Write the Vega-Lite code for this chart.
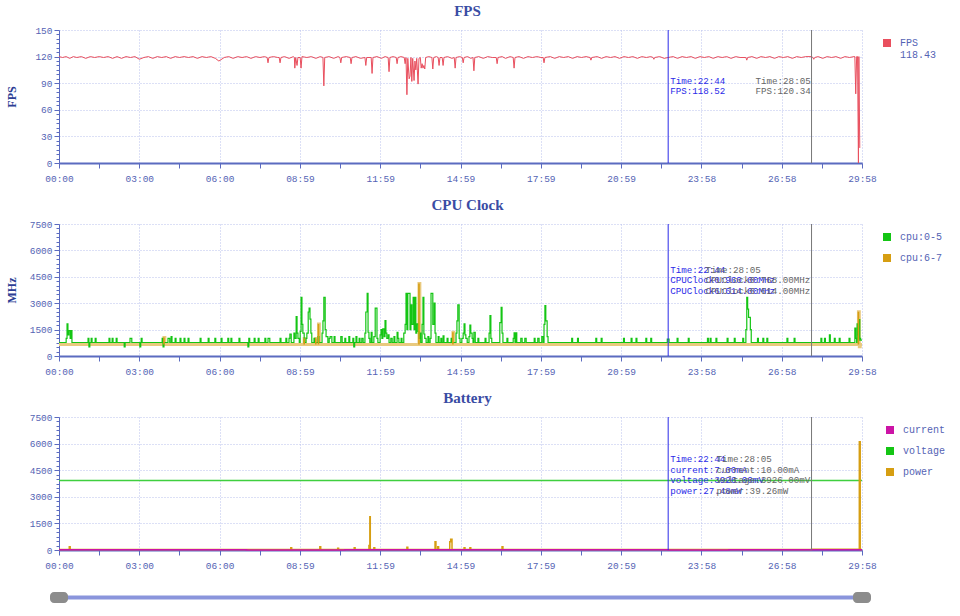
{
  "$schema": "https://vega.github.io/schema/vega-lite/v6.json",
  "background": "white",
  "padding": {"left": 5, "top": 4, "right": 5, "bottom": 5},
  "datasets": {
    "fps": [
      {"t":0,"v":120},{"t":8,"v":119},{"t":16,"v":120},{"t":24,"v":118},{"t":32,"v":120},{"t":40,"v":119},{"t":50,"v":120},{"t":60,"v":118},{"t":70,"v":120},{"t":80,"v":119},
      {"t":90,"v":120},{"t":100,"v":119},{"t":110,"v":120},{"t":120,"v":118},{"t":130,"v":120},{"t":140,"v":118},{"t":150,"v":120},{"t":160,"v":119},{"t":170,"v":120},{"t":180,"v":117},
      {"t":190,"v":119},{"t":200,"v":120},{"t":210,"v":118},{"t":220,"v":120},{"t":230,"v":119},{"t":240,"v":120},{"t":250,"v":118},{"t":260,"v":120},{"t":270,"v":119},{"t":280,"v":120},
      {"t":290,"v":119},{"t":300,"v":120},{"t":310,"v":118},{"t":320,"v":120},{"t":330,"v":119},{"t":340,"v":120},{"t":350,"v":118},{"t":358,"v":115},{"t":370,"v":119},{"t":380,"v":120},
      {"t":390,"v":118},{"t":400,"v":120},{"t":410,"v":119},{"t":420,"v":120},{"t":430,"v":118},{"t":440,"v":120},{"t":450,"v":119},{"t":460,"v":120},{"t":466,"v":119},{"t":468,"v":113},
      {"t":470,"v":119},{"t":480,"v":120},{"t":490,"v":119},{"t":493,"v":119},{"t":495,"v":113},{"t":497,"v":119},{"t":505,"v":120},{"t":515,"v":118},{"t":525,"v":120},{"t":527,"v":119},
      {"t":528,"v":107},{"t":530,"v":119},{"t":533,"v":110},{"t":535,"v":119},{"t":540,"v":119},{"t":542,"v":107},{"t":544,"v":120},{"t":555,"v":119},{"t":565,"v":120},{"t":575,"v":118},
      {"t":585,"v":120},{"t":591,"v":119},{"t":593,"v":87},{"t":595,"v":119},{"t":605,"v":120},{"t":615,"v":118},{"t":625,"v":120},{"t":629,"v":119},{"t":631,"v":113},{"t":633,"v":119},
      {"t":643,"v":120},{"t":652,"v":119},{"t":654,"v":112},{"t":656,"v":119},{"t":665,"v":120},{"t":675,"v":118},{"t":685,"v":119},{"t":687,"v":110},{"t":689,"v":119},{"t":699,"v":119},
      {"t":701,"v":101},{"t":703,"v":119},{"t":712,"v":120},{"t":722,"v":118},{"t":730,"v":120},{"t":737,"v":119},{"t":739,"v":103},{"t":741,"v":119},{"t":748,"v":120},{"t":755,"v":119},
      {"t":757,"v":112},{"t":759,"v":119},{"t":766,"v":120},{"t":773,"v":119},{"t":775,"v":112},{"t":777,"v":119},{"t":779,"v":77},{"t":781,"v":118},{"t":784,"v":95},{"t":786,"v":98},
      {"t":788,"v":119},{"t":790,"v":92},{"t":792,"v":118},{"t":795,"v":93},{"t":797,"v":115},{"t":799,"v":105},{"t":801,"v":118},{"t":804,"v":89},{"t":806,"v":118},{"t":809,"v":119},
      {"t":811,"v":107},{"t":813,"v":112},{"t":815,"v":107},{"t":817,"v":110},{"t":819,"v":106},{"t":821,"v":119},{"t":828,"v":120},{"t":835,"v":119},{"t":837,"v":106},{"t":839,"v":119},
      {"t":845,"v":120},{"t":849,"v":119},{"t":851,"v":110},{"t":853,"v":119},{"t":858,"v":119},{"t":860,"v":110},{"t":862,"v":119},{"t":870,"v":120},{"t":880,"v":118},{"t":885,"v":119},
      {"t":887,"v":107},{"t":889,"v":119},{"t":897,"v":120},{"t":903,"v":119},{"t":905,"v":113},{"t":907,"v":119},{"t":915,"v":120},{"t":922,"v":118},{"t":927,"v":119},{"t":929,"v":104},
      {"t":931,"v":119},{"t":940,"v":120},{"t":950,"v":118},{"t":960,"v":120},{"t":970,"v":119},{"t":979,"v":119},{"t":981,"v":112},{"t":983,"v":119},{"t":992,"v":120},{"t":1000,"v":118},
      {"t":1010,"v":120},{"t":1017,"v":119},{"t":1019,"v":107},{"t":1021,"v":119},{"t":1030,"v":120},{"t":1040,"v":118},{"t":1050,"v":120},{"t":1060,"v":119},{"t":1070,"v":120},{"t":1079,"v":119},
      {"t":1084,"v":119},{"t":1086,"v":113},{"t":1088,"v":119},{"t":1100,"v":120},{"t":1110,"v":118},{"t":1120,"v":120},{"t":1130,"v":119},{"t":1140,"v":120},{"t":1150,"v":118},{"t":1160,"v":120},
      {"t":1170,"v":119},{"t":1180,"v":120},{"t":1189,"v":119},{"t":1191,"v":116},{"t":1193,"v":119},{"t":1205,"v":120},{"t":1215,"v":118},{"t":1225,"v":120},{"t":1235,"v":119},{"t":1245,"v":120},
      {"t":1255,"v":118},{"t":1265,"v":120},{"t":1275,"v":119},{"t":1285,"v":120},{"t":1295,"v":118},{"t":1305,"v":120},{"t":1315,"v":119},{"t":1325,"v":120},{"t":1330,"v":119},{"t":1332,"v":117},
      {"t":1334,"v":119},{"t":1345,"v":120},{"t":1355,"v":118},{"t":1364,"v":119},{"t":1375,"v":120},{"t":1385,"v":118},{"t":1395,"v":120},{"t":1405,"v":119},{"t":1415,"v":120},{"t":1425,"v":118},
      {"t":1435,"v":120},{"t":1445,"v":119},{"t":1455,"v":120},{"t":1465,"v":118},{"t":1475,"v":120},{"t":1485,"v":119},{"t":1495,"v":120},{"t":1505,"v":118},{"t":1515,"v":120},{"t":1525,"v":119},
      {"t":1538,"v":119},{"t":1540,"v":116},{"t":1542,"v":119},{"t":1552,"v":120},{"t":1562,"v":118},{"t":1572,"v":120},{"t":1582,"v":119},{"t":1592,"v":120},{"t":1602,"v":118},{"t":1612,"v":120},
      {"t":1622,"v":119},{"t":1632,"v":120},{"t":1642,"v":118},{"t":1652,"v":120},{"t":1662,"v":119},{"t":1672,"v":120},{"t":1685,"v":120},{"t":1688,"v":119},{"t":1690,"v":117},{"t":1692,"v":119},
      {"t":1700,"v":120},{"t":1710,"v":118},{"t":1720,"v":120},{"t":1730,"v":119},{"t":1740,"v":120},{"t":1750,"v":118},{"t":1760,"v":120},{"t":1770,"v":119},{"t":1780,"v":120},{"t":1782,"v":120},
      {"t":1784,"v":78},{"t":1786,"v":120},{"t":1788,"v":120},{"t":1790,"v":0},{"t":1791,"v":120},{"t":1793,"v":17}
    ],
    "cpu05": [
      {"t":0,"v":768},{"t":16,"v":1000},{"t":18,"v":1820},{"t":20,"v":1200},{"t":22,"v":1444},{"t":25,"v":1000},{"t":27,"v":1444},{"t":29,"v":768},
      {"t":65,"v":1000},{"t":67,"v":520},{"t":69,"v":768},{"t":72,"v":1000},{"t":74,"v":768},{"t":81,"v":1000},{"t":83,"v":768},{"t":112,"v":1000},{"t":114,"v":768},
      {"t":119,"v":1000},{"t":121,"v":768},{"t":128,"v":1000},{"t":130,"v":768},{"t":146,"v":520},{"t":148,"v":768},{"t":159,"v":1000},{"t":163,"v":768},
      {"t":181,"v":520},{"t":183,"v":768},{"t":184,"v":1000},{"t":186,"v":768},{"t":231,"v":1000},{"t":233,"v":520},{"t":235,"v":768},{"t":244,"v":1000},{"t":248,"v":768},
      {"t":251,"v":1100},{"t":253,"v":768},{"t":260,"v":1000},{"t":262,"v":768},{"t":271,"v":1000},{"t":273,"v":768},{"t":280,"v":1000},{"t":282,"v":768},
      {"t":289,"v":1000},{"t":291,"v":768},{"t":316,"v":1000},{"t":318,"v":768},{"t":334,"v":1000},{"t":336,"v":768},{"t":349,"v":1000},{"t":351,"v":768},
      {"t":363,"v":1000},{"t":365,"v":768},{"t":378,"v":1000},{"t":380,"v":768},{"t":385,"v":1000},{"t":387,"v":768},{"t":403,"v":1000},{"t":405,"v":768},
      {"t":423,"v":520},{"t":425,"v":1000},{"t":427,"v":768},{"t":437,"v":1000},{"t":439,"v":768},{"t":446,"v":1000},{"t":448,"v":768},{"t":461,"v":1000},{"t":463,"v":768},
      {"t":468,"v":1000},{"t":472,"v":768},{"t":495,"v":1000},{"t":497,"v":768},{"t":508,"v":1000},{"t":510,"v":768},
      {"t":515,"v":1000},{"t":517,"v":1250},{"t":520,"v":768},{"t":526,"v":1300},{"t":528,"v":1000},{"t":531,"v":2234},{"t":533,"v":1300},{"t":535,"v":1000},{"t":538,"v":768},
      {"t":540,"v":1400},{"t":542,"v":3327},{"t":544,"v":1800},{"t":546,"v":1300},{"t":549,"v":768},{"t":553,"v":1000},{"t":555,"v":1300},{"t":558,"v":2500},{"t":560,"v":2724},
      {"t":562,"v":2100},{"t":564,"v":1300},{"t":566,"v":768},{"t":571,"v":1000},{"t":573,"v":768},{"t":580,"v":1100},{"t":582,"v":768},{"t":589,"v":1300},{"t":591,"v":2000},
      {"t":593,"v":3327},{"t":596,"v":1500},{"t":598,"v":1100},{"t":602,"v":768},{"t":605,"v":1000},{"t":607,"v":1100},{"t":611,"v":768},{"t":616,"v":1100},{"t":618,"v":768},
      {"t":631,"v":1100},{"t":634,"v":768},{"t":640,"v":1000},{"t":642,"v":768},{"t":649,"v":1100},{"t":651,"v":768},{"t":658,"v":1000},{"t":660,"v":520},{"t":662,"v":768},
      {"t":665,"v":1100},{"t":667,"v":768},{"t":672,"v":1000},{"t":674,"v":768},{"t":678,"v":1000},{"t":681,"v":768},{"t":685,"v":1300},{"t":687,"v":2500},{"t":690,"v":3553},
      {"t":692,"v":1350},{"t":694,"v":1000},{"t":696,"v":768},{"t":699,"v":1350},{"t":701,"v":768},{"t":705,"v":1100},{"t":708,"v":2724},{"t":710,"v":2724},{"t":712,"v":1000},
      {"t":714,"v":768},{"t":719,"v":1200},{"t":721,"v":1500},{"t":723,"v":1000},{"t":725,"v":1540},{"t":728,"v":1100},{"t":730,"v":2008},{"t":732,"v":1300},{"t":734,"v":1000},
      {"t":737,"v":1200},{"t":739,"v":768},{"t":743,"v":1000},{"t":746,"v":768},{"t":750,"v":1100},{"t":752,"v":768},{"t":757,"v":1350},{"t":759,"v":1000},{"t":761,"v":768},
      {"t":766,"v":1000},{"t":768,"v":768},{"t":772,"v":1300},{"t":775,"v":1800},{"t":777,"v":3553},{"t":779,"v":1500},{"t":781,"v":3553},{"t":784,"v":3553},{"t":786,"v":1500},
      {"t":788,"v":2900},{"t":790,"v":1800},{"t":793,"v":3327},{"t":795,"v":1500},{"t":797,"v":3327},{"t":799,"v":1300},{"t":801,"v":1820},{"t":804,"v":1400},{"t":806,"v":1000},
      {"t":808,"v":1300},{"t":810,"v":768},{"t":813,"v":1800},{"t":815,"v":3327},{"t":817,"v":1250},{"t":819,"v":1000},{"t":822,"v":768},{"t":826,"v":1100},{"t":828,"v":768},
      {"t":831,"v":1000},{"t":833,"v":3553},{"t":835,"v":3553},{"t":837,"v":1800},{"t":840,"v":3000},{"t":842,"v":1300},{"t":844,"v":768},{"t":849,"v":1100},{"t":851,"v":768},
      {"t":855,"v":1000},{"t":857,"v":768},{"t":860,"v":1150},{"t":862,"v":768},{"t":869,"v":1000},{"t":871,"v":768},{"t":878,"v":1000},{"t":880,"v":768},{"t":889,"v":1300},
      {"t":891,"v":2000},{"t":893,"v":2900},{"t":896,"v":1000},{"t":898,"v":768},{"t":902,"v":1000},{"t":905,"v":1300},{"t":907,"v":1820},{"t":909,"v":1200},{"t":911,"v":1000},
      {"t":914,"v":768},{"t":918,"v":1100},{"t":920,"v":1750},{"t":922,"v":1300},{"t":925,"v":1000},{"t":927,"v":768},{"t":929,"v":1350},{"t":932,"v":768},{"t":938,"v":1000},
      {"t":940,"v":768},{"t":954,"v":1000},{"t":956,"v":768},{"t":963,"v":1300},{"t":965,"v":2290},{"t":967,"v":1000},{"t":969,"v":768},{"t":987,"v":1900},{"t":990,"v":2760},
      {"t":992,"v":1300},{"t":994,"v":768},{"t":1003,"v":1000},{"t":1005,"v":768},{"t":1017,"v":1000},{"t":1019,"v":1320},{"t":1021,"v":768},{"t":1023,"v":1320},{"t":1025,"v":768},
      {"t":1034,"v":1000},{"t":1037,"v":768},{"t":1043,"v":1000},{"t":1046,"v":768},{"t":1064,"v":1000},{"t":1066,"v":768},{"t":1072,"v":1000},{"t":1075,"v":768},{"t":1081,"v":1100},
      {"t":1084,"v":768},{"t":1086,"v":1800},{"t":1088,"v":2870},{"t":1090,"v":2000},{"t":1093,"v":1100},{"t":1095,"v":768},
      {"t":1148,"v":1000},{"t":1150,"v":768},{"t":1161,"v":1000},{"t":1163,"v":768},{"t":1202,"v":1000},{"t":1204,"v":768},{"t":1214,"v":1000},{"t":1216,"v":768},
      {"t":1264,"v":1000},{"t":1266,"v":768},{"t":1281,"v":1000},{"t":1283,"v":768},{"t":1292,"v":1000},{"t":1294,"v":768},{"t":1314,"v":1000},{"t":1316,"v":768},
      {"t":1325,"v":1000},{"t":1327,"v":768},{"t":1362,"v":960},{"t":1366,"v":768},{"t":1384,"v":1000},{"t":1386,"v":768},{"t":1409,"v":1000},{"t":1411,"v":768},
      {"t":1452,"v":1000},{"t":1454,"v":768},{"t":1458,"v":1000},{"t":1460,"v":768},{"t":1471,"v":1000},{"t":1473,"v":768},{"t":1496,"v":1000},{"t":1498,"v":768},
      {"t":1512,"v":1000},{"t":1514,"v":768},{"t":1531,"v":1000},{"t":1533,"v":768},{"t":1538,"v":1500},{"t":1540,"v":3327},{"t":1542,"v":2668},{"t":1544,"v":2200},
      {"t":1546,"v":2200},{"t":1548,"v":1500},{"t":1550,"v":768},{"t":1564,"v":1000},{"t":1566,"v":768},{"t":1576,"v":1000},{"t":1578,"v":768},{"t":1585,"v":1000},{"t":1587,"v":768},
      {"t":1630,"v":1000},{"t":1632,"v":768},{"t":1646,"v":1000},{"t":1648,"v":768},{"t":1706,"v":1000},{"t":1708,"v":768},{"t":1714,"v":1000},{"t":1716,"v":768},
      {"t":1725,"v":1200},{"t":1727,"v":768},{"t":1736,"v":1000},{"t":1738,"v":768},{"t":1747,"v":1000},{"t":1749,"v":768},{"t":1769,"v":1000},{"t":1771,"v":768},
      {"t":1782,"v":1580},{"t":1784,"v":1000},{"t":1786,"v":768},{"t":1787,"v":1820},{"t":1788,"v":1200},{"t":1790,"v":900},{"t":1792,"v":2064},{"t":1793,"v":1000},
      {"t":1795,"v":900},{"t":1798,"v":900}
    ],
    "cpu67": [
      {"t":0,"v":654},{"t":235,"v":1050},{"t":237,"v":654},{"t":549,"v":1000},{"t":551,"v":654},{"t":575,"v":1000},{"t":577,"v":654},{"t":581,"v":1820},{"t":583,"v":654},
      {"t":806,"v":4117},{"t":808,"v":654},{"t":882,"v":1350},{"t":884,"v":654},{"t":1790,"v":2515},{"t":1792,"v":520},{"t":1794,"v":654},{"t":1798,"v":654}
    ],
    "battery": [
      {"s":"voltage","t":0,"v":3926},{"s":"voltage","t":1798,"v":3926},
      {"s":"power","t":0,"v":30},{"s":"power","t":23,"v":190},{"s":"power","t":25,"v":30},{"s":"power","t":519,"v":130},{"s":"power","t":521,"v":30},
      {"s":"power","t":584,"v":190},{"s":"power","t":586,"v":30},{"s":"power","t":624,"v":100},{"s":"power","t":626,"v":30},{"s":"power","t":661,"v":130},{"s":"power","t":663,"v":30},
      {"s":"power","t":694,"v":250},{"s":"power","t":696,"v":1880},{"s":"power","t":697,"v":30},{"s":"power","t":705,"v":130},{"s":"power","t":707,"v":30},
      {"s":"power","t":779,"v":150},{"s":"power","t":781,"v":30},{"s":"power","t":842,"v":470},{"s":"power","t":844,"v":30},{"s":"power","t":848,"v":190},{"s":"power","t":850,"v":30},
      {"s":"power","t":875,"v":470},{"s":"power","t":877,"v":600},{"s":"power","t":880,"v":30},{"s":"power","t":907,"v":130},{"s":"power","t":909,"v":30},
      {"s":"power","t":920,"v":130},{"s":"power","t":922,"v":30},{"s":"power","t":992,"v":190},{"s":"power","t":994,"v":30},{"s":"power","t":1364,"v":27},
      {"s":"power","t":1685,"v":39},{"s":"power","t":1792,"v":6100},{"s":"power","t":1794,"v":30},{"s":"power","t":1798,"v":30},
      {"s":"current","t":0,"v":8},{"s":"current","t":200,"v":10},{"s":"current","t":420,"v":7},{"s":"current","t":640,"v":9},{"s":"current","t":900,"v":8},
      {"s":"current","t":1150,"v":10},{"s":"current","t":1364,"v":7},{"s":"current","t":1500,"v":9},{"s":"current","t":1685,"v":10},{"s":"current","t":1798,"v":10}
    ],
    "cursors": [{"t":1364,"k":"a"},{"t":1685,"k":"b"}],
    "slider": [{"t":0},{"t":1798}],
    "notes": [
      {"p":"fps","k":"a","t":1364,"txt":"Time:22:44\nFPS:118.52"},
      {"p":"fps","k":"b","t":1685,"txt":"Time:28:05\nFPS:120.34"},
      {"p":"cpu","k":"a","t":1364,"txt":"Time:22:44\nCPUClock0:960.00MHz\nCPUClock6:614.00MHz"},
      {"p":"cpu","k":"b","t":1685,"txt":"Time:28:05\nCPUClock0:768.00MHz\nCPUClock6:614.00MHz"},
      {"p":"bat","k":"a","t":1364,"txt":"Time:22:44\ncurrent:7.00mA\nvoltage:3926.00mV\npower:27.48mW"},
      {"p":"bat","k":"b","t":1685,"txt":"Time:28:05\ncurrent:10.00mA\nvoltage:3926.00mV\npower:39.26mW"}
    ]
  },
  "spacing": 15,
  "resolve": {"scale": {"color": "independent"}},
  "vconcat": [
    {
      "width": 803, "height": 133,
      "title": {"text": "FPS", "dx": 7},
      "encoding": {
        "x": {"field": "t", "type": "quantitative", "scale": {"domain": [0, 1798], "nice": false, "zero": false},
          "axis": {"title": null, "tickCount": 21, "values": [0,89.9,179.8,269.7,359.6,449.5,539.4,629.3,719.2,809.1,899,988.9,1078.8,1168.7,1258.6,1348.5,1438.4,1528.3,1618.2,1708.1,1798],
            "labelExpr": "round(datum.value/89.9) % 2 == 1 ? '' : (floor(round(datum.value)/60) < 10 ? '0' : '') + floor(round(datum.value)/60) + ':' + (round(datum.value) % 60 < 10 ? '0' : '') + (round(datum.value) % 60)",
            "gridOpacity": {"condition": {"test": "round(datum.value/89.9) % 2 == 1", "value": 0}, "value": 1},
            "labelFlush": false, "labelOverlap": false, "domainWidth": 2, "tickSize": 5, "labelPadding": 5}}
      },
      "layer": [
        {"data": {"name": "fps"}, "mark": {"type": "line", "strokeWidth": 1},
          "encoding": {
            "y": {"field": "v", "type": "quantitative", "scale": {"domain": [0, 150], "nice": false},
              "axis": {"title": "FPS", "format": "d", "tickCount": 31, "values": [0,5,10,15,20,25,30,35,40,45,50,55,60,65,70,75,80,85,90,95,100,105,110,115,120,125,130,135,140,145,150],
                "labelExpr": "datum.value % 30 == 0 ? datum.label : ''", "labelOverlap": false,
                "gridOpacity": {"condition": {"test": "datum.value % 30 != 0", "value": 0}, "value": 1},
                "tickSize": {"condition": {"test": "datum.value % 30 != 0", "value": 3}, "value": 5},
                "minExtent": 31, "maxExtent": 31, "titlePadding": 10}},
            "color": {"datum": "FPS", "scale": {"domain": ["FPS"], "range": ["#e94f5e"]},
              "legend": {"labelExpr": "['FPS', '118.43']",
                "encode": {"symbols": {"update": {"fill": {"value": "#e94f5e"}, "fillOpacity": {"value": 1}, "strokeWidth": {"value": 0}}}}}}
          }},
        {"data": {"name": "cursors"}, "mark": {"type": "rule", "strokeWidth": 1},
          "encoding": {"color": {"condition": {"test": "datum.k == 'a'", "value": "#2a2ae8"}, "value": "#777777"}}},
        {"data": {"name": "notes"}, "transform": [{"filter": "datum.p == 'fps' && datum.k == 'a'"}],
          "mark": {"type": "text", "align": "left", "baseline": "top", "dx": 2, "lineBreak": "\n", "font": "Liberation Mono", "fontSize": 9.2, "lineHeight": 10.5, "color": "#2a2ae8"},
          "encoding": {"y": {"datum": 97}, "text": {"field": "txt"}}},
        {"data": {"name": "notes"}, "transform": [{"filter": "datum.p == 'fps' && datum.k == 'b'"}],
          "mark": {"type": "text", "align": "left", "baseline": "top", "dx": -56, "lineBreak": "\n", "font": "Liberation Mono", "fontSize": 9.2, "lineHeight": 10.5, "color": "#666666"},
          "encoding": {"y": {"datum": 97}, "text": {"field": "txt"}}}
      ]
    },
    {
      "width": 803, "height": 132,
      "title": {"text": "CPU Clock", "dx": 7},
      "encoding": {
        "x": {"field": "t", "type": "quantitative", "scale": {"domain": [0, 1798], "nice": false, "zero": false},
          "axis": {"title": null, "tickCount": 21, "values": [0,89.9,179.8,269.7,359.6,449.5,539.4,629.3,719.2,809.1,899,988.9,1078.8,1168.7,1258.6,1348.5,1438.4,1528.3,1618.2,1708.1,1798],
            "labelExpr": "round(datum.value/89.9) % 2 == 1 ? '' : (floor(round(datum.value)/60) < 10 ? '0' : '') + floor(round(datum.value)/60) + ':' + (round(datum.value) % 60 < 10 ? '0' : '') + (round(datum.value) % 60)",
            "gridOpacity": {"condition": {"test": "round(datum.value/89.9) % 2 == 1", "value": 0}, "value": 1},
            "labelFlush": false, "labelOverlap": false, "domainWidth": 2, "tickSize": 5, "labelPadding": 5}}
      },
      "layer": [
        {"data": {"name": "cpu67"}, "mark": {"type": "line", "strokeWidth": 3, "interpolate": "step-after", "color": "#e9c97e"},
          "encoding": {
            "y": {"field": "v", "type": "quantitative", "scale": {"domain": [0, 7500], "nice": false},
              "axis": {"title": "MHz", "format": "d", "tickCount": 31, "values": [0,250,500,750,1000,1250,1500,1750,2000,2250,2500,2750,3000,3250,3500,3750,4000,4250,4500,4750,5000,5250,5500,5750,6000,6250,6500,6750,7000,7250,7500],
                "labelExpr": "datum.value % 1500 == 0 ? datum.label : ''", "labelOverlap": false,
                "gridOpacity": {"condition": {"test": "datum.value % 1500 != 0", "value": 0}, "value": 1},
                "tickSize": {"condition": {"test": "datum.value % 1500 != 0", "value": 3}, "value": 5},
                "minExtent": 31, "maxExtent": 31, "titlePadding": 10}}
          }},
        {"data": {"name": "cpu05"}, "mark": {"type": "line", "strokeWidth": 1.2, "interpolate": "step-after"},
          "encoding": {
            "y": {"field": "v", "type": "quantitative"},
            "color": {"datum": "cpu:0-5", "scale": {"domain": ["cpu:0-5", "cpu:6-7"], "range": ["#14c514", "#d69e12"]},
              "legend": {"encode": {"symbols": {"update": {"fill": {"signal": "datum.value == 'cpu:0-5' ? '#14c514' : '#d69e12'"}, "fillOpacity": {"value": 1}, "strokeWidth": {"value": 0}}}}}}
          }},
        {"data": {"name": "cpu67"}, "transform": [{"filter": "datum.v > 700"}], "mark": {"type": "rule", "strokeWidth": 1.6, "color": "#d69e12"},
          "encoding": {"y": {"field": "v", "type": "quantitative"}, "y2": {"datum": 654}}},
        {"data": {"name": "cursors"}, "mark": {"type": "rule", "strokeWidth": 1},
          "encoding": {"color": {"condition": {"test": "datum.k == 'a'", "value": "#2a2ae8"}, "value": "#777777"}}},
        {"data": {"name": "notes"}, "transform": [{"filter": "datum.p == 'cpu' && datum.k == 'a'"}],
          "mark": {"type": "text", "align": "left", "baseline": "top", "dx": 2, "lineBreak": "\n", "font": "Liberation Mono", "fontSize": 9.2, "lineHeight": 10.5, "color": "#2a2ae8"},
          "encoding": {"y": {"datum": 5114}, "text": {"field": "txt"}}},
        {"data": {"name": "notes"}, "transform": [{"filter": "datum.p == 'cpu' && datum.k == 'b'"}],
          "mark": {"type": "text", "align": "left", "baseline": "top", "dx": -106, "lineBreak": "\n", "font": "Liberation Mono", "fontSize": 9.2, "lineHeight": 10.5, "color": "#666666"},
          "encoding": {"y": {"datum": 5114}, "text": {"field": "txt"}}}
      ]
    },
    {
      "width": 803, "height": 133,
      "title": {"text": "Battery", "dx": 7},
      "encoding": {
        "x": {"field": "t", "type": "quantitative", "scale": {"domain": [0, 1798], "nice": false, "zero": false},
          "axis": {"title": null, "tickCount": 21, "values": [0,89.9,179.8,269.7,359.6,449.5,539.4,629.3,719.2,809.1,899,988.9,1078.8,1168.7,1258.6,1348.5,1438.4,1528.3,1618.2,1708.1,1798],
            "labelExpr": "round(datum.value/89.9) % 2 == 1 ? '' : (floor(round(datum.value)/60) < 10 ? '0' : '') + floor(round(datum.value)/60) + ':' + (round(datum.value) % 60 < 10 ? '0' : '') + (round(datum.value) % 60)",
            "gridOpacity": {"condition": {"test": "round(datum.value/89.9) % 2 == 1", "value": 0}, "value": 1},
            "labelFlush": false, "labelOverlap": false, "domainWidth": 2, "tickSize": 5, "labelPadding": 5}}
      },
      "layer": [
        {"data": {"name": "battery"}, "mark": {"type": "line", "strokeWidth": 1.5, "interpolate": "step-after"},
          "encoding": {
            "y": {"field": "v", "type": "quantitative", "scale": {"domain": [0, 7500], "nice": false},
              "axis": {"title": null, "format": "d", "tickCount": 31, "values": [0,250,500,750,1000,1250,1500,1750,2000,2250,2500,2750,3000,3250,3500,3750,4000,4250,4500,4750,5000,5250,5500,5750,6000,6250,6500,6750,7000,7250,7500],
                "labelExpr": "datum.value % 1500 == 0 ? datum.label : ''", "labelOverlap": false,
                "gridOpacity": {"condition": {"test": "datum.value % 1500 != 0", "value": 0}, "value": 1},
                "tickSize": {"condition": {"test": "datum.value % 1500 != 0", "value": 3}, "value": 5},
                "minExtent": 31, "maxExtent": 31}},
            "color": {"field": "s", "type": "nominal", "scale": {"domain": ["current", "voltage", "power"], "range": ["#cc14a6", "#3fcf3f", "#d69e12"]},
              "legend": {"encode": {"symbols": {"update": {"fill": {"signal": "datum.value == 'current' ? '#cc14a6' : datum.value == 'voltage' ? '#14c514' : '#d69e12'"}, "fillOpacity": {"value": 1}, "strokeWidth": {"value": 0}}}}}},
            "order": {"field": "t"}
          }},
        {"data": {"name": "cursors"}, "mark": {"type": "rule", "strokeWidth": 1},
          "encoding": {"color": {"condition": {"test": "datum.k == 'a'", "value": "#2a2ae8"}, "value": "#777777"}}},
        {"data": {"name": "notes"}, "transform": [{"filter": "datum.p == 'bat' && datum.k == 'a'"}],
          "mark": {"type": "text", "align": "left", "baseline": "top", "dx": 2, "lineBreak": "\n", "font": "Liberation Mono", "fontSize": 9.2, "lineHeight": 10.5, "color": "#2a2ae8"},
          "encoding": {"y": {"datum": 5357}, "text": {"field": "txt"}}},
        {"data": {"name": "notes"}, "transform": [{"filter": "datum.p == 'bat' && datum.k == 'b'"}],
          "mark": {"type": "text", "align": "left", "baseline": "top", "dx": -95, "lineBreak": "\n", "font": "Liberation Mono", "fontSize": 9.2, "lineHeight": 10.5, "color": "#666666"},
          "encoding": {"y": {"datum": 5357}, "text": {"field": "txt"}}}
      ]
    },
    {
      "width": 803, "height": 22,
      "data": {"name": "slider"},
      "encoding": {"x": {"field": "t", "type": "quantitative", "scale": {"domain": [0, 1798], "nice": false, "zero": false}, "axis": null}},
      "layer": [
        {"mark": {"type": "rule", "strokeWidth": 4, "color": "#8a95dc"},
          "transform": [{"aggregate": [{"op": "min", "field": "t", "as": "t"}, {"op": "max", "field": "t", "as": "t2"}]}],
          "encoding": {"x2": {"field": "t2"}, "y": {"datum": 0.43, "scale": {"domain": [0, 1]}, "axis": null}}},
        {"mark": {"type": "rect", "width": 18, "height": 11, "cornerRadius": 4, "color": "#8c8c8c"},
          "encoding": {"y": {"datum": 0.43, "axis": null}}}
      ]
    }
  ],
  "config": {
    "view": {"stroke": null},
    "axis": {"domainColor": "#5b6bc0", "tickColor": "#5b6bc0", "labelColor": "#5463b4", "labelFont": "Liberation Mono", "labelFontSize": 9.5,
      "gridColor": "#b8c0ec", "gridDash": [1, 2], "titleFont": "Liberation Serif", "titleFontWeight": "bold", "titleColor": "#2c3e94", "titleFontSize": 12},
    "title": {"font": "Liberation Serif", "fontSize": 15, "fontWeight": "bold", "color": "#3a4ca4", "offset": 6, "anchor": "middle"},
    "legend": {"orient": "right", "offset": 12, "padding": 8, "title": null, "symbolType": "square", "symbolSize": 64, "symbolStrokeWidth": 0,
      "labelFont": "Liberation Mono", "labelFontSize": 10, "labelColor": "#5463b4", "labelOffset": 8, "rowPadding": 11}
  }
}
